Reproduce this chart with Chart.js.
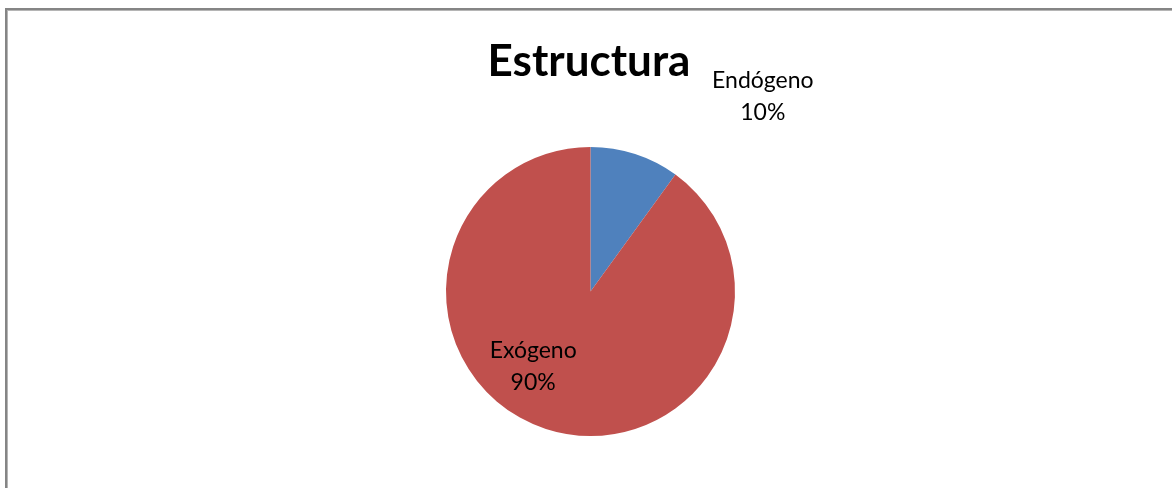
<!DOCTYPE html>
<html>
<head>
<meta charset="utf-8">
<script src="https://cdn.jsdelivr.net/npm/chart.js@4.4.1/dist/chart.umd.min.js"></script>
<style>
    html, body { margin: 0; padding: 0; background: #fff; overflow: hidden; }
    .wrap { position: relative; width: 1172px; height: 488px; }
    .frame {
        position: absolute; left: 5px; top: 8px; width: 1200px; height: 600px;
        border-left: 2px solid #858585; border-top: 2px solid #858585;
        box-shadow: inset 1px 1px 0 #b5b5b5;
    }
    canvas { position: absolute; left: 0; top: 0; }
</style>
</head>
<body>
<div class="wrap">
    <div class="frame"></div>
    <canvas id="pieChart" width="1172" height="488"></canvas>
</div>
<script>
const chartTitle = 'Estructura';
const categories = ['Endógeno', 'Exógeno'];
const shares = [10, 90];
const sliceColors = ['#4F81BD', '#C0504D'];

// подписи: сдвиг от центра дуги (как у Excel "по ширине")
const labelShift = [[150, -126], [-35, 6]];

const sliceLabels = {
    id: 'sliceLabels',
    afterDatasetsDraw(chart) {
        const ctx = chart.ctx;
        const meta = chart.getDatasetMeta(0);
        const total = shares.reduce((a, b) => a + b, 0);
        ctx.save();
        ctx.font = '23px Lato';
        ctx.fillStyle = '#000';
        ctx.textAlign = 'center';
        ctx.textBaseline = 'middle';
        meta.data.forEach((arc, i) => {
            const p = arc.tooltipPosition();
            const x = p.x + labelShift[i][0];
            const y = p.y + labelShift[i][1];
            ctx.fillText(categories[i], x, y - 16);
            ctx.fillText(Math.round(shares[i] / total * 100) + '%', x, y + 16);
        });
        // заголовок
        ctx.font = 'bold 44px Lato';
        ctx.textBaseline = 'alphabetic';
        ctx.fillText(chartTitle, 589, 76);
        ctx.restore();
    }
};

new Chart(document.getElementById('pieChart'), {
    type: 'pie',
    data: {
        labels: categories,
        datasets: [{
            data: shares,
            backgroundColor: sliceColors,
            borderWidth: 0
        }]
    },
    options: {
        responsive: false,
        animation: false,
        layout: { padding: { top: 147, bottom: 52, left: 9, right: 0 } },
        plugins: {
            legend: { display: false },
            title: { display: false },
            tooltip: { enabled: false }
        }
    },
    plugins: [sliceLabels]
});
</script>
</body>
</html>
